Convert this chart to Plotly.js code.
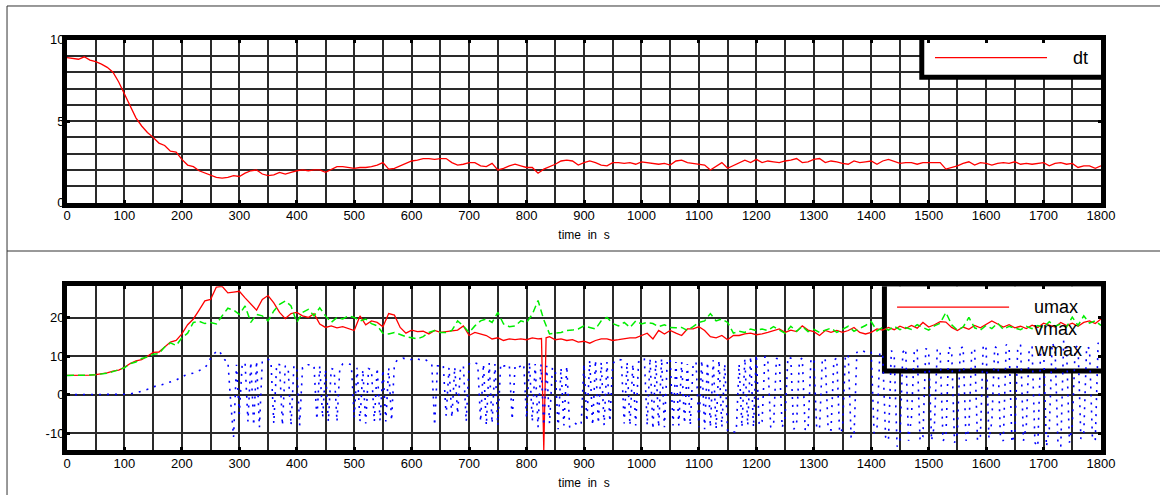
<!DOCTYPE html>
<html>
<head>
<meta charset="utf-8">
<script src="https://cdn.plot.ly/plotly-3.0.1.min.js"></script>
<style>html,body{margin:0;padding:0;background:#fff;}#chart{width:1160px;height:495px;}</style>
</head>
<body>
<div id="chart"></div>
<script>
// ---------- data ----------
const time10 = Array.from({length: 181}, (_, i) => i * 10);
const time5 = Array.from({length: 361}, (_, i) => i * 5);
// umax has a short extra dip sampled at 826/830/834 s instead of 830 s
const umaxTime = time10.slice(0, 83).concat([826, 830, 834], time10.slice(84));

const dt = [
 8.9,8.85,8.8,8.95,8.75,8.65,8.5,8.3,8.0,7.4,
 6.7,5.9,5.2,4.7,4.3,4.0,3.65,3.5,3.15,3.1,
 2.65,2.3,2.2,1.95,1.8,1.7,1.55,1.5,1.55,1.65,
 1.6,1.8,1.95,2.0,1.75,1.65,1.7,1.85,1.75,1.85,
 1.95,2.0,1.95,2.0,2.0,1.85,2.05,2.2,2.2,2.15,
 2.1,2.15,2.15,2.2,2.3,2.45,2.05,2.1,2.25,2.4,
 2.55,2.6,2.7,2.7,2.65,2.7,2.7,2.45,2.3,2.35,
 2.45,2.45,2.25,2.2,2.4,2.0,2.1,2.25,2.35,2.25,
 2.15,2.15,1.8,2.05,2.2,2.35,2.55,2.6,2.55,2.3,
 2.45,2.55,2.45,2.3,2.25,2.45,2.45,2.4,2.45,2.35,
 2.5,2.45,2.4,2.35,2.4,2.3,2.55,2.6,2.45,2.4,
 2.35,2.3,2.0,2.25,2.45,2.1,2.25,2.4,2.6,2.45,
 2.65,2.45,2.55,2.5,2.45,2.55,2.6,2.7,2.45,2.5,
 2.65,2.7,2.45,2.55,2.5,2.4,2.35,2.55,2.45,2.5,
 2.55,2.35,2.55,2.65,2.5,2.4,2.45,2.45,2.35,2.45,
 2.45,2.45,2.45,2.05,2.15,2.25,2.4,2.5,2.3,2.45,
 2.4,2.3,2.4,2.45,2.4,2.5,2.35,2.4,2.35,2.4,
 2.45,2.25,2.4,2.45,2.35,2.4,2.15,2.25,2.25,2.1,
 2.25
];

const umax = [
 5.0,5.0,5.0,5.1,5.1,5.2,5.4,5.7,6.1,6.4,
 7.1,8.1,8.8,9.1,10.0,11.0,11.1,12.4,13.7,14.1,
 15.8,18.2,19.7,22.0,24.4,24.8,28.0,28.2,26.5,26.7,
 26.9,25.2,23.5,22.0,24.8,25.8,23.9,21.4,19.8,21.1,
 21.4,20.5,20.1,21.1,18.4,17.5,17.9,17.4,17.7,17.1,
 16.7,20.5,18.2,19.2,18.8,17.7,21.1,20.7,17.5,16.0,
 16.8,16.4,16.5,15.8,16.7,16.2,16.4,16.7,16.8,17.9,
 15.4,16.2,15.8,15.4,14.5,14.8,14.1,14.5,14.3,14.5,
 14.3,14.8,14.5,14.6,-14.4,14.8,15.1,14.3,14.5,14.1,14.3,13.7,
 13.9,13.4,14.1,14.5,14.5,14.1,14.3,14.5,14.8,14.8,
 15.5,16.0,14.5,16.7,15.8,16.7,16.0,15.4,17.1,17.1,
 17.7,16.7,15.1,14.8,15.4,14.3,15.4,15.4,15.8,16.0,
 15.6,15.8,16.2,16.7,17.1,16.2,16.8,16.4,17.9,16.8,
 16.4,15.4,16.7,16.2,16.7,16.2,16.7,17.5,16.2,15.8,
 16.2,17.1,16.8,17.5,16.9,17.8,17.2,18.0,17.3,18.8,
 17.6,18.2,19.0,18.9,17.5,16.7,17.6,17.0,18.0,17.4,
 18.3,19.2,18.4,17.6,18.2,17.4,17.8,17.2,18.1,17.5,
 18.6,18.0,17.6,18.8,18.0,18.6,17.8,18.8,19.2,18.5,
 19.7
];

const vmax = [
 5.0,5.0,5.0,5.1,5.1,5.2,5.4,5.6,6.0,6.4,
 7.0,8.1,8.5,9.4,9.8,10.5,10.7,12.4,13.5,12.8,
 14.8,16.0,18.8,19.1,18.5,18.8,18.4,20.5,22.5,22.0,
 20.9,23.1,18.8,20.9,20.5,19.2,21.8,23.5,24.4,23.1,
 18.8,21.4,22.2,20.5,22.6,20.5,18.8,20.1,19.7,20.5,
 20.1,19.2,19.7,18.5,17.9,16.0,15.8,16.2,15.6,15.1,
 14.8,14.5,15.1,16.2,16.7,16.2,16.2,16.7,19.2,17.9,
 16.2,17.9,19.2,19.7,18.8,21.4,18.4,17.7,17.9,19.2,
 18.8,20.9,24.5,19.5,15.8,16.0,16.2,16.7,16.8,17.1,
 17.9,17.5,17.1,19.2,20.1,18.5,17.9,18.8,17.5,19.2,
 18.4,18.8,18.5,17.7,18.2,17.5,17.4,17.5,16.7,17.7,
 18.8,19.2,21.1,19.2,19.7,18.8,16.0,16.5,16.2,17.1,
 16.7,17.1,16.7,17.7,16.8,16.0,17.8,16.5,17.8,16.4,
 17.0,16.2,16.8,17.3,16.2,17.0,17.8,16.5,17.2,18.0,
 19.0,16.6,17.5,16.8,17.8,16.9,17.5,17.0,18.2,17.4,
 16.8,17.9,18.6,21.4,18.2,16.8,17.6,20.1,17.4,16.8,
 18.0,17.2,18.6,17.0,17.8,17.3,16.9,17.8,17.2,18.0,
 17.5,19.0,17.8,18.4,17.6,20.2,18.0,20.5,18.6,19.2,
 18.0
];

const wmax = [
 0,0,0,0,0,0,0,0,0,0,0,0,0,0,0,0,0,0,0,0,
 0,0.1,0.2,0.3,0.5,0.7,0.9,1.1,1.3,1.6,2.0,2.3,2.5,2.6,2.8,3.0,3.2,3.5,3.8,4.2,
 4.7,5.0,5.3,5.4,5.6,5.9,6.2,6.5,7.0,8.0,9.5,10.5,11.2,11.5,10.0,9.0,8.8,-2,-11,7.8,
 -5,8.0,8.3,-7,8.5,-8,8.8,-8.5,8.8,9.0,9.2,8.8,-7.5,8.0,7.8,-8,7.5,7.0,-8,7.5,
 7.2,-8,7.0,7.0,7.8,7.8,7.6,-6.5,7.5,-6.0,6.5,-7.0,6.8,6.5,-7.0,7.0,8.0,8.2,8.0,7.8,
 -6.0,7.0,-7.0,6.5,-7.5,6.8,6.5,-7,7.0,-6.8,6.5,-7.0,7.0,-6.8,8.0,9.0,9.2,9.5,9.3,9.0,
 9.2,9.5,9.4,9.0,9.2,9.0,8.5,8.0,-8.0,7.5,7.5,7.8,-5.5,7.0,-6.0,7.2,-5.0,7.0,7.5,-7.0,
 8.0,8.5,8.3,8.0,-7.0,8.0,-8.0,8.2,-7.5,8.0,-8.0,8.0,7.5,7.5,7.8,-6.5,7.5,7.0,7.5,8.0,
 -6.0,8.5,-7.0,8.0,-8.5,8.0,-8.0,7.5,-7.5,7.0,6.5,-9.0,7.0,-8.0,7.5,-8.5,-8.0,-7.5,-8.0,-7.8,
 8.0,-7.0,9.0,-8.0,9.0,-7.5,8.5,-8.0,8.5,-7.0,8.0,9.0,9.2,9.0,-7.5,8.5,-8.0,8.0,-8.0,8.5,
 9.0,9.5,-8.0,9.5,-9.0,9.0,-8.5,9.5,-8.5,9.0,9.3,-8.0,8.5,-8.0,8.5,-7.5,8.0,-8.0,8.0,8.5,
 -8.5,9.0,-9.0,8.5,-8.5,9.0,-9.0,9.0,-8.5,8.0,-9.5,-9.8,-9.7,-9.7,8.0,-8.5,9.5,-8.0,10.0,-8.5,
 10.5,-8.0,-7.0,10.0,9.0,-8.5,-8.0,9.5,9.0,-8.5,-6.0,9.8,9.5,-9.0,-8.0,9.0,9.5,-9.0,-9.2,9.0,
 9.5,-8.5,-9.0,9.5,9.0,-9.0,-9.2,9.0,9.5,-10.0,-9.0,10.0,10.5,-11.0,-11.0,11.0,11.5,11.5,11.0,11.2,
 11.0,-10.0,-9.0,11.0,10.5,-11.0,-12.0,11.5,10.0,-13.5,-12.0,11.0,12.0,-12.0,-6.0,11.5,12.0,-12.0,-11.0,12.0,
 11.5,-12.0,-8.0,12.0,11.0,-12.0,-11.0,12.5,11.5,-12.5,-10.0,12.0,12.5,-12.0,-9.0,11.5,12.0,-12.0,-11.0,13.0,
 12.0,-11.5,-7.0,12.5,12.0,-11.5,-12.0,13.0,12.5,-12.5,-10.0,12.0,13.0,-12.0,-8.0,12.0,12.5,-12.5,-13.5,12.0,
 12.5,-13.5,-9.0,13.5,12.0,-12.5,-13.5,14.0,12.5,-12.5,-8.0,12.0,13.0,-11.5,-10.0,12.5,12.0,-11.0,-12.0,13.5,
 12.0
];

const xTickVals = [0,100,200,300,400,500,600,700,800,900,1000,1100,1200,1300,1400,1500,1600,1700,1800];
const xTitle = 'time\u00a0 in\u00a0 s';
const legendTop = ['dt'];
const legendBottom = ['umax', 'vmax', 'wmax'];

// ---------- styling ----------
const FONT = 'Liberation Sans, Arial, Helvetica, sans-serif';
const GRID = '#2a2a2a';
const GW = 2;

function xAxis(anchor) {
  return {
    anchor: anchor, domain: [0, 1], range: [0, 1800], autorange: false,
    tickmode: 'array', tickvals: xTickVals, ticktext: xTickVals.map(String),
    showline: true, linecolor: '#000', linewidth: 5, mirror: 'allticks',
    ticks: 'inside', ticklen: 3, tickwidth: 3, tickcolor: '#000',
    showgrid: true, gridcolor: GRID, gridwidth: GW,
    minor: {dtick: 50, tick0: 0, showgrid: true, gridcolor: GRID, gridwidth: GW, ticks: ''},
    zeroline: false, ticklabelstandoff: -3,
    tickfont: {family: FONT, size: 13, color: '#000'},
    title: {text: xTitle, font: {family: FONT, size: 12, color: '#000'}, standoff: 10}
  };
}

function yAxis(anchor, domain, range, vals, minorDtick) {
  const ax = {
    domain: domain, range: range, autorange: false, anchor: anchor,
    tickmode: 'array', tickvals: vals, ticktext: vals.map(String),
    showline: true, linecolor: '#000', linewidth: 5, mirror: 'allticks',
    ticks: 'inside', ticklen: 3, tickwidth: 3, tickcolor: '#000',
    showgrid: true, gridcolor: GRID, gridwidth: GW,
    zeroline: false, ticklabelstandoff: -5,
    tickfont: {family: FONT, size: 13, color: '#000'}
  };
  if (minorDtick) ax.minor = {dtick: minorDtick, tick0: 0, showgrid: true, gridcolor: GRID, gridwidth: GW, ticks: ''};
  return ax;
}

const layout = {
  width: 1160, height: 495,
  margin: {l: 67, r: 59, t: 0, b: 0},
  paper_bgcolor: '#fff', plot_bgcolor: '#fff',
  showlegend: false,
  xaxis: xAxis('y'),
  xaxis2: xAxis('y2'),
  yaxis: yAxis('x', [0.5909, 0.9198], [0, 10], [0, 5, 10], 1),
  yaxis2: yAxis('x2', [0.0909, 0.4216], [-14.4, 28.2], [-10, 0, 10, 20], null),
  shapes: [
    // outer frame lines of the figure
    {type: 'line', xref: 'paper', yref: 'paper', x0: -0.058, x1: 1.1, y0: 0.9879, y1: 0.9879, line: {color: '#333', width: 1}},
    {type: 'line', xref: 'paper', yref: 'paper', x0: -0.058, x1: 1.1, y0: 0.4929, y1: 0.4929, line: {color: '#333', width: 1}},
    {type: 'line', xref: 'paper', yref: 'paper', x0: -0.058, x1: -0.058, y0: 0.9879, y1: -0.1, line: {color: '#333', width: 1}},
    // legend boxes (drawn under the data)
    {type: 'rect', xref: 'x', yref: 'y', x0: 1488, x1: 1805, y0: 7.7, y1: 10.2, layer: 'between', fillcolor: '#fff', line: {color: '#000', width: 5}},
    {type: 'line', xref: 'x', yref: 'y', x0: 1511, x1: 1706, y0: 8.9, y1: 8.9, layer: 'between', line: {color: '#ff0000', width: 1.3}},
    {type: 'rect', xref: 'x2', yref: 'y2', x0: 1423, x1: 1805, y0: 6.15, y1: 28.8, layer: 'between', fillcolor: '#fff', line: {color: '#000', width: 5}},
    {type: 'line', xref: 'x2', yref: 'y2', x0: 1445, x1: 1640, y0: 22.8, y1: 22.8, layer: 'between', line: {color: '#ff0000', width: 1.3}}
  ],
  annotations: [
    {xref: 'x', yref: 'y', x: 1748, y: 8.9, xanchor: 'left', yanchor: 'middle', text: legendTop[0], showarrow: false, font: {family: FONT, size: 18, color: '#000'}},
    {xref: 'x2', yref: 'y2', x: 1680, y: 22.8, xanchor: 'left', yanchor: 'middle', text: legendBottom[0], showarrow: false, font: {family: FONT, size: 18, color: '#000'}},
    {xref: 'x2', yref: 'y2', x: 1680, y: 17.2, xanchor: 'left', yanchor: 'middle', text: legendBottom[1], showarrow: false, font: {family: FONT, size: 18, color: '#000'}},
    {xref: 'x2', yref: 'y2', x: 1680, y: 11.5, xanchor: 'left', yanchor: 'middle', text: legendBottom[2], showarrow: false, font: {family: FONT, size: 18, color: '#000'}}
  ]
};

const traces = [
  {x: time10, y: dt, xaxis: 'x', yaxis: 'y', type: 'scatter', mode: 'lines', name: 'dt',
   line: {color: '#ff0000', width: 1.3}},
  {x: umaxTime, y: umax, xaxis: 'x2', yaxis: 'y2', type: 'scatter', mode: 'lines', name: 'umax',
   line: {color: '#ff0000', width: 1.3}},
  {x: time10, y: vmax, xaxis: 'x2', yaxis: 'y2', type: 'scatter', mode: 'lines', name: 'vmax',
   line: {color: '#00ee00', width: 1.5, dash: '7px,4px'}},
  {x: time5, y: wmax, xaxis: 'x2', yaxis: 'y2', type: 'scatter', mode: 'lines', name: 'wmax',
   line: {color: '#0000ff', width: 1.6, dash: '2px,6px'}}
];

Plotly.newPlot('chart', traces, layout, {staticPlot: true, displayModeBar: false});
</script>
</body>
</html>
